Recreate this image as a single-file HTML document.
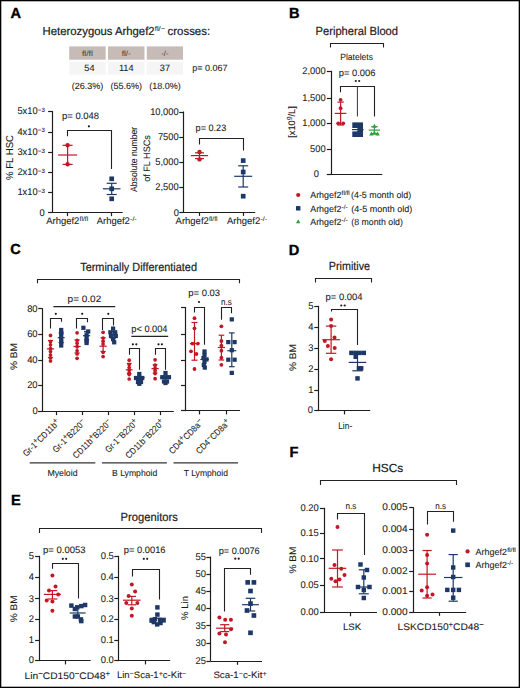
<!DOCTYPE html>
<html><head><meta charset="utf-8"><style>
html,body{margin:0;padding:0;background:#fff;}
svg{display:block;font-family:"Liberation Sans", sans-serif;}
</style></head><body>
<svg text-rendering="geometricPrecision" width="520" height="688" viewBox="0 0 520 688">
<rect x="0" y="0" width="520" height="688" fill="#fff"/>
<rect x="0.5" y="0.5" width="519" height="687" fill="none" stroke="#000" stroke-width="1.6"/>
<text x="10.5" y="18.0" font-size="14.6" font-weight="bold" fill="#000" stroke="#000" stroke-width="0.35">A</text>
<text x="288.9" y="18.0" font-size="14.6" font-weight="bold" fill="#000" stroke="#000" stroke-width="0.35">B</text>
<text x="10.3" y="254.2" font-size="14.6" font-weight="bold" fill="#000" stroke="#000" stroke-width="0.35">C</text>
<text x="288.7" y="254.6" font-size="14.6" font-weight="bold" fill="#000" stroke="#000" stroke-width="0.35">D</text>
<text x="10.9" y="504.8" font-size="14.6" font-weight="bold" fill="#000" stroke="#000" stroke-width="0.35">E</text>
<text x="289.6" y="456.8" font-size="14.6" font-weight="bold" fill="#000" stroke="#000" stroke-width="0.35">F</text>
<text x="42.60" y="34.80" font-size="11.6" text-anchor="start" fill="#1a1a1a" stroke="#1a1a1a" stroke-width="0.2" textLength="112.00" lengthAdjust="spacingAndGlyphs">Heterozygous Arhgef2</text>
<text x="154.80" y="31.00" font-size="7.0" text-anchor="start" fill="#1a1a1a" stroke="#1a1a1a" stroke-width="0.08" textLength="10.40" lengthAdjust="spacingAndGlyphs">fl/−</text>
<text x="167.60" y="34.80" font-size="11.6" text-anchor="start" fill="#1a1a1a" stroke="#1a1a1a" stroke-width="0.2" textLength="42.50" lengthAdjust="spacingAndGlyphs">crosses:</text>
<rect x="69.2" y="46.4" width="36.50" height="13.3" fill="#c7bbb8"/>
<rect x="69.2" y="61.7" width="36.50" height="13.0" fill="#f6f5f5"/>
<text x="87.45" y="56.10" font-size="7.6" text-anchor="middle" fill="#444" stroke="#444" stroke-width="0.08" textLength="11.00" lengthAdjust="spacingAndGlyphs">fl/fl</text>
<text x="89.45" y="71.40" font-size="9.2" text-anchor="middle" fill="#1a1a1a" stroke="#1a1a1a" stroke-width="0.08">54</text>
<text x="87.45" y="88.60" font-size="9.0" text-anchor="middle" fill="#1a1a1a" stroke="#1a1a1a" stroke-width="0.08">(26.3%)</text>
<rect x="108.0" y="46.4" width="36.50" height="13.3" fill="#c7bbb8"/>
<rect x="108.0" y="61.7" width="36.50" height="13.0" fill="#f6f5f5"/>
<text x="126.25" y="56.10" font-size="7.6" text-anchor="middle" fill="#444" stroke="#444" stroke-width="0.08" textLength="9.20" lengthAdjust="spacingAndGlyphs">fl/-</text>
<text x="126.25" y="71.40" font-size="9.2" text-anchor="middle" fill="#1a1a1a" stroke="#1a1a1a" stroke-width="0.08">114</text>
<text x="126.25" y="88.60" font-size="9.0" text-anchor="middle" fill="#1a1a1a" stroke="#1a1a1a" stroke-width="0.08">(55.6%)</text>
<rect x="146.8" y="46.4" width="36.20" height="13.3" fill="#c7bbb8"/>
<rect x="146.8" y="61.7" width="36.20" height="13.0" fill="#f6f5f5"/>
<text x="164.90" y="56.10" font-size="7.6" text-anchor="middle" fill="#444" stroke="#444" stroke-width="0.08" textLength="7.20" lengthAdjust="spacingAndGlyphs">-/-</text>
<text x="164.90" y="71.40" font-size="9.2" text-anchor="middle" fill="#1a1a1a" stroke="#1a1a1a" stroke-width="0.08">37</text>
<text x="164.90" y="88.60" font-size="9.0" text-anchor="middle" fill="#1a1a1a" stroke="#1a1a1a" stroke-width="0.08">(18.0%)</text>
<text x="192.30" y="71.40" font-size="9.0" text-anchor="start" fill="#1a1a1a" stroke="#1a1a1a" stroke-width="0.08">p= 0.067</text>
<line x1="52.50" y1="111.10" x2="52.50" y2="212.80" stroke="#1e1e1e" stroke-width="1.2"/>
<line x1="48.10" y1="111.50" x2="52.50" y2="111.50" stroke="#1e1e1e" stroke-width="1.2"/>
<line x1="48.10" y1="132.50" x2="52.50" y2="132.50" stroke="#1e1e1e" stroke-width="1.2"/>
<line x1="48.10" y1="152.50" x2="52.50" y2="152.50" stroke="#1e1e1e" stroke-width="1.2"/>
<line x1="48.10" y1="172.50" x2="52.50" y2="172.50" stroke="#1e1e1e" stroke-width="1.2"/>
<line x1="48.10" y1="192.50" x2="52.50" y2="192.50" stroke="#1e1e1e" stroke-width="1.2"/>
<line x1="48.10" y1="212.50" x2="52.50" y2="212.50" stroke="#1e1e1e" stroke-width="1.2"/>
<text x="37.60" y="114.00" font-size="9.7" text-anchor="end" fill="#1a1a1a" stroke="#1a1a1a" stroke-width="0.08" textLength="20.17" lengthAdjust="spacingAndGlyphs">5x10</text>
<text x="37.80" y="111.90" font-size="6.2" text-anchor="start" fill="#1a1a1a" stroke="#1a1a1a" stroke-width="0.08">−3</text>
<text x="37.60" y="135.00" font-size="9.7" text-anchor="end" fill="#1a1a1a" stroke="#1a1a1a" stroke-width="0.08" textLength="20.17" lengthAdjust="spacingAndGlyphs">4x10</text>
<text x="37.80" y="132.20" font-size="6.2" text-anchor="start" fill="#1a1a1a" stroke="#1a1a1a" stroke-width="0.08">−3</text>
<text x="37.60" y="155.00" font-size="9.7" text-anchor="end" fill="#1a1a1a" stroke="#1a1a1a" stroke-width="0.08" textLength="20.17" lengthAdjust="spacingAndGlyphs">3x10</text>
<text x="37.80" y="152.50" font-size="6.2" text-anchor="start" fill="#1a1a1a" stroke="#1a1a1a" stroke-width="0.08">−3</text>
<text x="37.60" y="175.00" font-size="9.7" text-anchor="end" fill="#1a1a1a" stroke="#1a1a1a" stroke-width="0.08" textLength="20.17" lengthAdjust="spacingAndGlyphs">2x10</text>
<text x="37.80" y="172.70" font-size="6.2" text-anchor="start" fill="#1a1a1a" stroke="#1a1a1a" stroke-width="0.08">−3</text>
<text x="37.60" y="195.00" font-size="9.7" text-anchor="end" fill="#1a1a1a" stroke="#1a1a1a" stroke-width="0.08" textLength="20.17" lengthAdjust="spacingAndGlyphs">1x10</text>
<text x="37.80" y="192.70" font-size="6.2" text-anchor="start" fill="#1a1a1a" stroke="#1a1a1a" stroke-width="0.08">−3</text>
<text x="44.70" y="216.00" font-size="9.7" text-anchor="end" fill="#1a1a1a" stroke="#1a1a1a" stroke-width="0.08" textLength="5.17" lengthAdjust="spacingAndGlyphs">0</text>
<line x1="48.80" y1="212.50" x2="122.70" y2="212.50" stroke="#1e1e1e" stroke-width="1.2"/>
<line x1="67.50" y1="212.50" x2="67.50" y2="216.10" stroke="#1e1e1e" stroke-width="1.2"/>
<line x1="111.50" y1="212.50" x2="111.50" y2="216.10" stroke="#1e1e1e" stroke-width="1.2"/>
<line x1="58.10" y1="155.00" x2="77.10" y2="155.00" stroke="#c01824" stroke-width="1.2"/>
<line x1="67.60" y1="145.30" x2="67.60" y2="164.40" stroke="#c01824" stroke-width="1.2"/>
<line x1="62.60" y1="145.30" x2="72.60" y2="145.30" stroke="#c01824" stroke-width="1.2"/>
<line x1="62.60" y1="164.40" x2="72.60" y2="164.40" stroke="#c01824" stroke-width="1.2"/>
<circle cx="67.60" cy="145.20" r="2.2" fill="#c01824"/>
<circle cx="67.60" cy="164.30" r="2.2" fill="#c01824"/>
<line x1="102.90" y1="188.80" x2="120.50" y2="188.80" stroke="#1d3866" stroke-width="1.2"/>
<line x1="111.70" y1="183.30" x2="111.70" y2="194.50" stroke="#1d3866" stroke-width="1.2"/>
<line x1="106.70" y1="183.30" x2="116.70" y2="183.30" stroke="#1d3866" stroke-width="1.2"/>
<line x1="106.70" y1="194.50" x2="116.70" y2="194.50" stroke="#1d3866" stroke-width="1.2"/>
<rect x="109.37" y="176.47" width="4.664000000000001" height="4.664000000000001" fill="#1d3866"/>
<rect x="109.37" y="186.47" width="4.664000000000001" height="4.664000000000001" fill="#1d3866"/>
<rect x="109.37" y="196.47" width="4.664000000000001" height="4.664000000000001" fill="#1d3866"/>
<polyline points="67.50,136.20 67.50,130.50 111.50,130.50 111.50,169.00" fill="none" stroke="#222" stroke-width="1.1" stroke-linejoin="miter"/>
<circle cx="88.90" cy="126.30" r="1.1" fill="#1a1a1a"/>
<text x="62.00" y="119.40" font-size="9.3" text-anchor="start" fill="#1a1a1a" stroke="#1a1a1a" stroke-width="0.08" textLength="37.00" lengthAdjust="spacingAndGlyphs">p= 0.048</text>
<text transform="translate(13.30 157.50) rotate(-90)" x="0" y="0" font-size="10.0" text-anchor="middle" fill="#1a1a1a" stroke="#1a1a1a" stroke-width="0.08" textLength="45.00" lengthAdjust="spacingAndGlyphs">% FL HSC</text>
<text x="46.20" y="224.20" font-size="9.5" text-anchor="start" fill="#1a1a1a" stroke="#1a1a1a" stroke-width="0.08" textLength="33.20" lengthAdjust="spacingAndGlyphs">Arhgef2</text>
<text x="79.60" y="221.00" font-size="6.3" text-anchor="start" fill="#1a1a1a" stroke="#1a1a1a" stroke-width="0.08" textLength="8.60" lengthAdjust="spacingAndGlyphs">fl/fl</text>
<text x="96.70" y="224.20" font-size="9.5" text-anchor="start" fill="#1a1a1a" stroke="#1a1a1a" stroke-width="0.08" textLength="33.20" lengthAdjust="spacingAndGlyphs">Arhgef2</text>
<text x="130.10" y="221.00" font-size="6.3" text-anchor="start" fill="#1a1a1a" stroke="#1a1a1a" stroke-width="0.08" textLength="6.60" lengthAdjust="spacingAndGlyphs">-/-</text>
<line x1="183.50" y1="111.50" x2="183.50" y2="212.60" stroke="#1e1e1e" stroke-width="1.2"/>
<line x1="179.30" y1="112.50" x2="183.50" y2="112.50" stroke="#1e1e1e" stroke-width="1.2"/>
<text x="178.60" y="115.00" font-size="9.7" text-anchor="end" fill="#1a1a1a" stroke="#1a1a1a" stroke-width="0.08" textLength="28.44" lengthAdjust="spacingAndGlyphs">10,000</text>
<line x1="179.30" y1="137.50" x2="183.50" y2="137.50" stroke="#1e1e1e" stroke-width="1.2"/>
<text x="178.60" y="140.00" font-size="9.7" text-anchor="end" fill="#1a1a1a" stroke="#1a1a1a" stroke-width="0.08" textLength="20.69" lengthAdjust="spacingAndGlyphs">7500</text>
<line x1="179.30" y1="162.50" x2="183.50" y2="162.50" stroke="#1e1e1e" stroke-width="1.2"/>
<text x="178.60" y="165.00" font-size="9.7" text-anchor="end" fill="#1a1a1a" stroke="#1a1a1a" stroke-width="0.08" textLength="23.27" lengthAdjust="spacingAndGlyphs">5,000</text>
<line x1="179.30" y1="187.50" x2="183.50" y2="187.50" stroke="#1e1e1e" stroke-width="1.2"/>
<text x="178.60" y="190.00" font-size="9.7" text-anchor="end" fill="#1a1a1a" stroke="#1a1a1a" stroke-width="0.08" textLength="23.27" lengthAdjust="spacingAndGlyphs">2,500</text>
<line x1="179.30" y1="212.50" x2="183.50" y2="212.50" stroke="#1e1e1e" stroke-width="1.2"/>
<text x="178.90" y="216.00" font-size="9.7" text-anchor="end" fill="#1a1a1a" stroke="#1a1a1a" stroke-width="0.08" textLength="5.17" lengthAdjust="spacingAndGlyphs">0</text>
<line x1="180.40" y1="212.50" x2="255.20" y2="212.50" stroke="#1e1e1e" stroke-width="1.2"/>
<line x1="199.50" y1="212.50" x2="199.50" y2="215.90" stroke="#1e1e1e" stroke-width="1.2"/>
<line x1="243.50" y1="212.50" x2="243.50" y2="215.90" stroke="#1e1e1e" stroke-width="1.2"/>
<line x1="190.90" y1="155.60" x2="208.10" y2="155.60" stroke="#c01824" stroke-width="1.2"/>
<line x1="199.50" y1="152.80" x2="199.50" y2="158.60" stroke="#c01824" stroke-width="1.2"/>
<line x1="195.00" y1="152.80" x2="204.00" y2="152.80" stroke="#c01824" stroke-width="1.2"/>
<line x1="195.00" y1="158.60" x2="204.00" y2="158.60" stroke="#c01824" stroke-width="1.2"/>
<circle cx="199.50" cy="152.00" r="2.2" fill="#c01824"/>
<circle cx="199.50" cy="159.40" r="2.2" fill="#c01824"/>
<line x1="234.20" y1="176.30" x2="252.20" y2="176.30" stroke="#1d3866" stroke-width="1.2"/>
<line x1="243.20" y1="165.80" x2="243.20" y2="187.00" stroke="#1d3866" stroke-width="1.2"/>
<line x1="238.20" y1="165.80" x2="248.20" y2="165.80" stroke="#1d3866" stroke-width="1.2"/>
<line x1="238.20" y1="187.00" x2="248.20" y2="187.00" stroke="#1d3866" stroke-width="1.2"/>
<rect x="240.87" y="158.27" width="4.664000000000001" height="4.664000000000001" fill="#1d3866"/>
<rect x="240.87" y="169.67" width="4.664000000000001" height="4.664000000000001" fill="#1d3866"/>
<rect x="240.87" y="193.87" width="4.664000000000001" height="4.664000000000001" fill="#1d3866"/>
<polyline points="199.50,144.60 199.50,138.50 243.50,138.50 243.50,150.60" fill="none" stroke="#222" stroke-width="1.1" stroke-linejoin="miter"/>
<text x="195.60" y="131.40" font-size="9.3" text-anchor="start" fill="#1a1a1a" stroke="#1a1a1a" stroke-width="0.08" textLength="30.60" lengthAdjust="spacingAndGlyphs">p= 0.23</text>
<text transform="translate(137.16 159.40) rotate(-90)" x="0" y="0" font-size="9.3" text-anchor="middle" fill="#1a1a1a" stroke="#1a1a1a" stroke-width="0.08" textLength="65.00" lengthAdjust="spacingAndGlyphs">Absolute number</text>
<text transform="translate(150.06 158.50) rotate(-90)" x="0" y="0" font-size="9.3" text-anchor="middle" fill="#1a1a1a" stroke="#1a1a1a" stroke-width="0.08" textLength="46.50" lengthAdjust="spacingAndGlyphs">of FL HSCs</text>
<text x="175.60" y="224.20" font-size="9.5" text-anchor="start" fill="#1a1a1a" stroke="#1a1a1a" stroke-width="0.08" textLength="33.20" lengthAdjust="spacingAndGlyphs">Arhgef2</text>
<text x="209.00" y="221.00" font-size="6.3" text-anchor="start" fill="#1a1a1a" stroke="#1a1a1a" stroke-width="0.08" textLength="8.60" lengthAdjust="spacingAndGlyphs">fl/fl</text>
<text x="227.00" y="224.20" font-size="9.5" text-anchor="start" fill="#1a1a1a" stroke="#1a1a1a" stroke-width="0.08" textLength="33.20" lengthAdjust="spacingAndGlyphs">Arhgef2</text>
<text x="260.40" y="221.00" font-size="6.3" text-anchor="start" fill="#1a1a1a" stroke="#1a1a1a" stroke-width="0.08" textLength="6.60" lengthAdjust="spacingAndGlyphs">-/-</text>
<text x="315.60" y="35.00" font-size="11.8" text-anchor="start" fill="#1a1a1a" stroke="#1a1a1a" stroke-width="0.2" textLength="82.40" lengthAdjust="spacingAndGlyphs">Peripheral Blood</text>
<polyline points="330.50,47.40 330.50,43.50 383.50,43.50 383.50,47.40" fill="none" stroke="#222" stroke-width="1.1" stroke-linejoin="miter"/>
<text x="340.20" y="59.50" font-size="9.0" text-anchor="start" fill="#1a1a1a" stroke="#1a1a1a" stroke-width="0.08" textLength="32.80" lengthAdjust="spacingAndGlyphs">Platelets</text>
<line x1="331.50" y1="70.80" x2="331.50" y2="175.00" stroke="#1e1e1e" stroke-width="1.2"/>
<line x1="326.80" y1="71.50" x2="331.50" y2="71.50" stroke="#1e1e1e" stroke-width="1.2"/>
<text x="325.60" y="74.00" font-size="9.7" text-anchor="end" fill="#1a1a1a" stroke="#1a1a1a" stroke-width="0.08" textLength="23.27" lengthAdjust="spacingAndGlyphs">2,000</text>
<line x1="326.80" y1="98.50" x2="331.50" y2="98.50" stroke="#1e1e1e" stroke-width="1.2"/>
<text x="325.60" y="101.00" font-size="9.7" text-anchor="end" fill="#1a1a1a" stroke="#1a1a1a" stroke-width="0.08" textLength="23.27" lengthAdjust="spacingAndGlyphs">1,500</text>
<line x1="326.80" y1="123.50" x2="331.50" y2="123.50" stroke="#1e1e1e" stroke-width="1.2"/>
<text x="325.60" y="126.00" font-size="9.7" text-anchor="end" fill="#1a1a1a" stroke="#1a1a1a" stroke-width="0.08" textLength="23.27" lengthAdjust="spacingAndGlyphs">1,000</text>
<line x1="326.80" y1="149.50" x2="331.50" y2="149.50" stroke="#1e1e1e" stroke-width="1.2"/>
<text x="325.60" y="152.00" font-size="9.7" text-anchor="end" fill="#1a1a1a" stroke="#1a1a1a" stroke-width="0.08" textLength="15.52" lengthAdjust="spacingAndGlyphs">500</text>
<line x1="326.80" y1="174.50" x2="331.50" y2="174.50" stroke="#1e1e1e" stroke-width="1.2"/>
<text x="319.00" y="177.00" font-size="9.7" text-anchor="end" fill="#1a1a1a" stroke="#1a1a1a" stroke-width="0.08" textLength="5.17" lengthAdjust="spacingAndGlyphs">0</text>
<line x1="327.00" y1="174.50" x2="382.20" y2="174.50" stroke="#1e1e1e" stroke-width="1.2"/>
<line x1="334.80" y1="113.40" x2="346.40" y2="113.40" stroke="#c01824" stroke-width="1.2"/>
<line x1="340.60" y1="102.10" x2="340.60" y2="125.00" stroke="#c01824" stroke-width="1.2"/>
<line x1="337.40" y1="102.10" x2="343.80" y2="102.10" stroke="#c01824" stroke-width="1.2"/>
<line x1="337.40" y1="125.00" x2="343.80" y2="125.00" stroke="#c01824" stroke-width="1.2"/>
<circle cx="340.60" cy="99.80" r="1.9" fill="#c01824"/>
<circle cx="340.60" cy="108.20" r="1.9" fill="#c01824"/>
<circle cx="338.20" cy="123.30" r="1.9" fill="#c01824"/>
<circle cx="343.20" cy="123.30" r="1.9" fill="#c01824"/>
<rect x="352.29" y="122.39" width="5.618" height="5.618" fill="#1d3866"/>
<rect x="357.39" y="122.39" width="5.618" height="5.618" fill="#1d3866"/>
<rect x="357.39" y="126.99" width="5.618" height="5.618" fill="#1d3866"/>
<rect x="352.29" y="131.39" width="5.618" height="5.618" fill="#1d3866"/>
<rect x="357.39" y="131.39" width="5.618" height="5.618" fill="#1d3866"/>
<line x1="352.00" y1="129.60" x2="363.60" y2="129.60" stroke="#1d3866" stroke-width="1.2"/>
<line x1="368.80" y1="130.10" x2="380.00" y2="130.10" stroke="#2f9e3a" stroke-width="1.2"/>
<line x1="374.40" y1="126.70" x2="374.40" y2="133.50" stroke="#2f9e3a" stroke-width="1.2"/>
<line x1="371.10" y1="126.70" x2="377.70" y2="126.70" stroke="#2f9e3a" stroke-width="1.2"/>
<line x1="371.10" y1="133.50" x2="377.70" y2="133.50" stroke="#2f9e3a" stroke-width="1.2"/>
<polygon points="374.40,123.82 376.60,127.78 372.20,127.78" fill="#2f9e3a"/>
<polygon points="371.40,131.42 373.60,135.38 369.20,135.38" fill="#2f9e3a"/>
<polygon points="377.60,131.42 379.80,135.38 375.40,135.38" fill="#2f9e3a"/>
<polygon points="374.40,130.82 376.60,134.78 372.20,134.78" fill="#2f9e3a"/>
<polyline points="340.50,92.30 340.50,86.50 374.50,86.50 374.50,116.50" fill="none" stroke="#222" stroke-width="1.1" stroke-linejoin="miter"/>
<line x1="357.40" y1="86.30" x2="357.40" y2="116.50" stroke="#333" stroke-width="1.0"/>
<text x="338.80" y="75.90" font-size="9.3" text-anchor="start" fill="#1a1a1a" stroke="#1a1a1a" stroke-width="0.08" textLength="36.70" lengthAdjust="spacingAndGlyphs">p= 0.006</text>
<circle cx="355.80" cy="81.00" r="1.1" fill="#1a1a1a"/>
<circle cx="359.20" cy="81.00" r="1.1" fill="#1a1a1a"/>
<text transform="translate(295.22 122.00) rotate(-90)" x="0" y="0" font-size="9.5" text-anchor="middle" fill="#1a1a1a" stroke="#1a1a1a" stroke-width="0.08" textLength="31.50" lengthAdjust="spacingAndGlyphs">[x10<tspan font-size="7.2" dy="-3.4">9</tspan><tspan dy="3.4">/L]</tspan></text>
<circle cx="298.20" cy="195.00" r="2.1" fill="#c01824"/>
<rect x="295.97" y="206.07" width="4.452000000000001" height="4.452000000000001" fill="#1d3866"/>
<polygon points="298.20,219.22 300.40,223.18 296.00,223.18" fill="#2f9e3a"/>
<text x="310.20" y="198.30" font-size="9.0" text-anchor="start" fill="#1a1a1a" stroke="#1a1a1a" stroke-width="0.08" textLength="31.20" lengthAdjust="spacingAndGlyphs">Arhgef2</text>
<text x="341.60" y="195.40" font-size="6.0" text-anchor="start" fill="#1a1a1a" stroke="#1a1a1a" stroke-width="0.08" textLength="8.20" lengthAdjust="spacingAndGlyphs">fl/fl</text>
<text x="351.00" y="198.30" font-size="9.0" text-anchor="start" fill="#1a1a1a" stroke="#1a1a1a" stroke-width="0.08" textLength="60.20" lengthAdjust="spacingAndGlyphs">(4-5 month old)</text>
<text x="310.20" y="211.60" font-size="9.0" text-anchor="start" fill="#1a1a1a" stroke="#1a1a1a" stroke-width="0.08" textLength="31.20" lengthAdjust="spacingAndGlyphs">Arhgef2</text>
<text x="341.60" y="208.70" font-size="6.0" text-anchor="start" fill="#1a1a1a" stroke="#1a1a1a" stroke-width="0.08" textLength="6.20" lengthAdjust="spacingAndGlyphs">-/-</text>
<text x="351.30" y="211.60" font-size="9.0" text-anchor="start" fill="#1a1a1a" stroke="#1a1a1a" stroke-width="0.08" textLength="61.00" lengthAdjust="spacingAndGlyphs">(4-5 month old)</text>
<text x="310.20" y="224.60" font-size="9.0" text-anchor="start" fill="#1a1a1a" stroke="#1a1a1a" stroke-width="0.08" textLength="31.20" lengthAdjust="spacingAndGlyphs">Arhgef2</text>
<text x="341.60" y="221.70" font-size="6.0" text-anchor="start" fill="#1a1a1a" stroke="#1a1a1a" stroke-width="0.08" textLength="6.20" lengthAdjust="spacingAndGlyphs">-/-</text>
<text x="351.30" y="224.60" font-size="9.0" text-anchor="start" fill="#1a1a1a" stroke="#1a1a1a" stroke-width="0.08" textLength="51.60" lengthAdjust="spacingAndGlyphs">(8 month old)</text>
<text x="80.20" y="270.80" font-size="11.8" text-anchor="start" fill="#1a1a1a" stroke="#1a1a1a" stroke-width="0.2" textLength="116.80" lengthAdjust="spacingAndGlyphs">Terminally Differentiated</text>
<polyline points="37.50,283.20 37.50,279.50 239.50,279.50 239.50,283.20" fill="none" stroke="#222" stroke-width="1.1" stroke-linejoin="miter"/>
<line x1="42.50" y1="308.30" x2="42.50" y2="411.80" stroke="#1e1e1e" stroke-width="1.2"/>
<line x1="38.20" y1="308.50" x2="42.50" y2="308.50" stroke="#1e1e1e" stroke-width="1.2"/>
<text x="37.60" y="312.00" font-size="9.7" text-anchor="end" fill="#1a1a1a" stroke="#1a1a1a" stroke-width="0.08" textLength="10.45" lengthAdjust="spacingAndGlyphs">80</text>
<line x1="38.20" y1="334.50" x2="42.50" y2="334.50" stroke="#1e1e1e" stroke-width="1.2"/>
<text x="37.60" y="337.00" font-size="9.7" text-anchor="end" fill="#1a1a1a" stroke="#1a1a1a" stroke-width="0.08" textLength="10.45" lengthAdjust="spacingAndGlyphs">60</text>
<line x1="38.20" y1="360.50" x2="42.50" y2="360.50" stroke="#1e1e1e" stroke-width="1.2"/>
<text x="37.60" y="363.00" font-size="9.7" text-anchor="end" fill="#1a1a1a" stroke="#1a1a1a" stroke-width="0.08" textLength="10.45" lengthAdjust="spacingAndGlyphs">40</text>
<line x1="38.20" y1="385.50" x2="42.50" y2="385.50" stroke="#1e1e1e" stroke-width="1.2"/>
<text x="37.60" y="388.00" font-size="9.7" text-anchor="end" fill="#1a1a1a" stroke="#1a1a1a" stroke-width="0.08" textLength="10.45" lengthAdjust="spacingAndGlyphs">20</text>
<line x1="38.20" y1="411.50" x2="42.50" y2="411.50" stroke="#1e1e1e" stroke-width="1.2"/>
<text x="37.80" y="414.00" font-size="9.7" text-anchor="end" fill="#1a1a1a" stroke="#1a1a1a" stroke-width="0.08" textLength="5.23" lengthAdjust="spacingAndGlyphs">0</text>
<line x1="38.20" y1="411.50" x2="173.80" y2="411.50" stroke="#1e1e1e" stroke-width="1.2"/>
<line x1="56.50" y1="411.50" x2="56.50" y2="415.10" stroke="#1e1e1e" stroke-width="1.2"/>
<line x1="82.50" y1="411.50" x2="82.50" y2="415.10" stroke="#1e1e1e" stroke-width="1.2"/>
<line x1="108.50" y1="411.50" x2="108.50" y2="415.10" stroke="#1e1e1e" stroke-width="1.2"/>
<line x1="134.50" y1="411.50" x2="134.50" y2="415.10" stroke="#1e1e1e" stroke-width="1.2"/>
<line x1="160.50" y1="411.50" x2="160.50" y2="415.10" stroke="#1e1e1e" stroke-width="1.2"/>
<text x="67.60" y="302.20" font-size="9.3" text-anchor="start" fill="#1a1a1a" stroke="#1a1a1a" stroke-width="0.08" textLength="33.60" lengthAdjust="spacingAndGlyphs">p= 0.02</text>
<line x1="53.40" y1="306.60" x2="115.20" y2="306.60" stroke="#222" stroke-width="1.1"/>
<polyline points="50.50,328.50 50.50,318.50 61.50,318.50 61.50,321.80" fill="none" stroke="#222" stroke-width="1.1" stroke-linejoin="miter"/>
<circle cx="55.80" cy="313.80" r="1.1" fill="#1a1a1a"/>
<polyline points="76.50,328.50 76.50,318.50 87.50,318.50 87.50,322.30" fill="none" stroke="#222" stroke-width="1.1" stroke-linejoin="miter"/>
<circle cx="82.20" cy="313.80" r="1.1" fill="#1a1a1a"/>
<polyline points="102.50,330.00 102.50,318.50 113.50,318.50 113.50,325.40" fill="none" stroke="#222" stroke-width="1.1" stroke-linejoin="miter"/>
<circle cx="108.30" cy="313.80" r="1.1" fill="#1a1a1a"/>
<text x="131.30" y="332.20" font-size="9.3" text-anchor="start" fill="#1a1a1a" stroke="#1a1a1a" stroke-width="0.08" textLength="36.20" lengthAdjust="spacingAndGlyphs">p< 0.004</text>
<line x1="131.30" y1="336.40" x2="168.20" y2="336.40" stroke="#222" stroke-width="1.1"/>
<polyline points="129.50,354.80 129.50,348.50 139.50,348.50 139.50,369.80" fill="none" stroke="#222" stroke-width="1.1" stroke-linejoin="miter"/>
<circle cx="132.90" cy="344.30" r="1.1" fill="#1a1a1a"/>
<circle cx="136.30" cy="344.30" r="1.1" fill="#1a1a1a"/>
<polyline points="155.50,354.80 155.50,348.50 165.50,348.50 165.50,369.80" fill="none" stroke="#222" stroke-width="1.1" stroke-linejoin="miter"/>
<circle cx="158.50" cy="344.30" r="1.1" fill="#1a1a1a"/>
<circle cx="161.90" cy="344.30" r="1.1" fill="#1a1a1a"/>
<line x1="46.90" y1="348.90" x2="54.10" y2="348.90" stroke="#c01824" stroke-width="1.2"/>
<line x1="50.50" y1="340.50" x2="50.50" y2="357.50" stroke="#c01824" stroke-width="1.2"/>
<line x1="47.90" y1="340.50" x2="53.10" y2="340.50" stroke="#c01824" stroke-width="1.2"/>
<line x1="47.90" y1="357.50" x2="53.10" y2="357.50" stroke="#c01824" stroke-width="1.2"/>
<circle cx="50.50" cy="335.40" r="1.85" fill="#c01824"/>
<circle cx="50.50" cy="341.50" r="1.85" fill="#c01824"/>
<circle cx="50.50" cy="344.80" r="1.85" fill="#c01824"/>
<circle cx="50.50" cy="348.50" r="1.85" fill="#c01824"/>
<circle cx="50.50" cy="351.50" r="1.85" fill="#c01824"/>
<circle cx="50.50" cy="355.00" r="1.85" fill="#c01824"/>
<circle cx="50.50" cy="358.00" r="1.85" fill="#c01824"/>
<circle cx="50.50" cy="361.00" r="1.85" fill="#c01824"/>
<line x1="57.70" y1="337.70" x2="64.70" y2="337.70" stroke="#1d3866" stroke-width="1.2"/>
<line x1="61.20" y1="333.00" x2="61.20" y2="342.50" stroke="#1d3866" stroke-width="1.2"/>
<line x1="58.60" y1="333.00" x2="63.80" y2="333.00" stroke="#1d3866" stroke-width="1.2"/>
<line x1="58.60" y1="342.50" x2="63.80" y2="342.50" stroke="#1d3866" stroke-width="1.2"/>
<rect x="59.08" y="327.88" width="4.24" height="4.24" fill="#1d3866"/>
<rect x="59.08" y="330.88" width="4.24" height="4.24" fill="#1d3866"/>
<rect x="59.08" y="333.88" width="4.24" height="4.24" fill="#1d3866"/>
<rect x="59.08" y="336.88" width="4.24" height="4.24" fill="#1d3866"/>
<rect x="59.08" y="339.88" width="4.24" height="4.24" fill="#1d3866"/>
<rect x="59.08" y="343.38" width="4.24" height="4.24" fill="#1d3866"/>
<line x1="73.50" y1="346.50" x2="80.70" y2="346.50" stroke="#c01824" stroke-width="1.2"/>
<line x1="77.10" y1="340.00" x2="77.10" y2="353.00" stroke="#c01824" stroke-width="1.2"/>
<line x1="74.50" y1="340.00" x2="79.70" y2="340.00" stroke="#c01824" stroke-width="1.2"/>
<line x1="74.50" y1="353.00" x2="79.70" y2="353.00" stroke="#c01824" stroke-width="1.2"/>
<circle cx="77.10" cy="332.80" r="1.85" fill="#c01824"/>
<circle cx="77.10" cy="340.30" r="1.85" fill="#c01824"/>
<circle cx="77.10" cy="343.20" r="1.85" fill="#c01824"/>
<circle cx="77.10" cy="346.50" r="1.85" fill="#c01824"/>
<circle cx="77.10" cy="350.80" r="1.85" fill="#c01824"/>
<circle cx="77.10" cy="354.00" r="1.85" fill="#c01824"/>
<circle cx="77.10" cy="358.30" r="1.85" fill="#c01824"/>
<line x1="83.00" y1="335.70" x2="90.20" y2="335.70" stroke="#1d3866" stroke-width="1.2"/>
<line x1="86.60" y1="331.50" x2="86.60" y2="340.00" stroke="#1d3866" stroke-width="1.2"/>
<line x1="84.00" y1="331.50" x2="89.20" y2="331.50" stroke="#1d3866" stroke-width="1.2"/>
<line x1="84.00" y1="340.00" x2="89.20" y2="340.00" stroke="#1d3866" stroke-width="1.2"/>
<rect x="81.28" y="325.68" width="4.24" height="4.24" fill="#1d3866"/>
<rect x="86.08" y="329.38" width="4.24" height="4.24" fill="#1d3866"/>
<rect x="84.48" y="332.48" width="4.24" height="4.24" fill="#1d3866"/>
<rect x="84.48" y="335.58" width="4.24" height="4.24" fill="#1d3866"/>
<rect x="84.48" y="338.68" width="4.24" height="4.24" fill="#1d3866"/>
<rect x="84.48" y="340.88" width="4.24" height="4.24" fill="#1d3866"/>
<line x1="99.50" y1="346.20" x2="106.70" y2="346.20" stroke="#c01824" stroke-width="1.2"/>
<line x1="103.10" y1="337.80" x2="103.10" y2="351.50" stroke="#c01824" stroke-width="1.2"/>
<line x1="100.50" y1="337.80" x2="105.70" y2="337.80" stroke="#c01824" stroke-width="1.2"/>
<line x1="100.50" y1="351.50" x2="105.70" y2="351.50" stroke="#c01824" stroke-width="1.2"/>
<circle cx="103.10" cy="332.30" r="1.85" fill="#c01824"/>
<circle cx="103.10" cy="338.00" r="1.85" fill="#c01824"/>
<circle cx="103.10" cy="341.20" r="1.85" fill="#c01824"/>
<circle cx="103.10" cy="344.00" r="1.85" fill="#c01824"/>
<circle cx="103.10" cy="352.30" r="1.85" fill="#c01824"/>
<circle cx="103.10" cy="356.60" r="1.85" fill="#c01824"/>
<line x1="109.50" y1="334.80" x2="116.70" y2="334.80" stroke="#1d3866" stroke-width="1.2"/>
<line x1="113.10" y1="331.50" x2="113.10" y2="338.50" stroke="#1d3866" stroke-width="1.2"/>
<line x1="110.50" y1="331.50" x2="115.70" y2="331.50" stroke="#1d3866" stroke-width="1.2"/>
<line x1="110.50" y1="338.50" x2="115.70" y2="338.50" stroke="#1d3866" stroke-width="1.2"/>
<rect x="110.98" y="326.48" width="4.24" height="4.24" fill="#1d3866"/>
<rect x="108.28" y="330.18" width="4.24" height="4.24" fill="#1d3866"/>
<rect x="113.08" y="330.18" width="4.24" height="4.24" fill="#1d3866"/>
<rect x="108.88" y="333.88" width="4.24" height="4.24" fill="#1d3866"/>
<rect x="113.68" y="333.88" width="4.24" height="4.24" fill="#1d3866"/>
<rect x="110.98" y="337.08" width="4.24" height="4.24" fill="#1d3866"/>
<rect x="112.08" y="340.18" width="4.24" height="4.24" fill="#1d3866"/>
<line x1="125.80" y1="369.80" x2="132.60" y2="369.80" stroke="#c01824" stroke-width="1.2"/>
<line x1="129.20" y1="363.40" x2="129.20" y2="373.60" stroke="#c01824" stroke-width="1.2"/>
<line x1="126.80" y1="363.40" x2="131.60" y2="363.40" stroke="#c01824" stroke-width="1.2"/>
<line x1="126.80" y1="373.60" x2="131.60" y2="373.60" stroke="#c01824" stroke-width="1.2"/>
<circle cx="129.20" cy="360.20" r="1.85" fill="#c01824"/>
<circle cx="129.20" cy="364.60" r="1.85" fill="#c01824"/>
<circle cx="129.20" cy="367.50" r="1.85" fill="#c01824"/>
<circle cx="129.20" cy="370.00" r="1.85" fill="#c01824"/>
<circle cx="129.20" cy="372.70" r="1.85" fill="#c01824"/>
<circle cx="129.20" cy="374.60" r="1.85" fill="#c01824"/>
<circle cx="129.20" cy="379.00" r="1.85" fill="#c01824"/>
<rect x="137.18" y="371.88" width="4.24" height="4.24" fill="#1d3866"/>
<rect x="133.88" y="375.88" width="4.24" height="4.24" fill="#1d3866"/>
<rect x="137.18" y="375.88" width="4.24" height="4.24" fill="#1d3866"/>
<rect x="140.08" y="375.88" width="4.24" height="4.24" fill="#1d3866"/>
<rect x="135.88" y="379.88" width="4.24" height="4.24" fill="#1d3866"/>
<rect x="138.88" y="379.88" width="4.24" height="4.24" fill="#1d3866"/>
<rect x="137.18" y="381.68" width="4.24" height="4.24" fill="#1d3866"/>
<line x1="134.00" y1="377.60" x2="144.60" y2="377.60" stroke="#1d3866" stroke-width="1.1"/>
<line x1="151.50" y1="368.60" x2="158.70" y2="368.60" stroke="#c01824" stroke-width="1.2"/>
<line x1="155.10" y1="364.80" x2="155.10" y2="373.00" stroke="#c01824" stroke-width="1.2"/>
<line x1="152.70" y1="364.80" x2="157.50" y2="364.80" stroke="#c01824" stroke-width="1.2"/>
<line x1="152.70" y1="373.00" x2="157.50" y2="373.00" stroke="#c01824" stroke-width="1.2"/>
<circle cx="155.10" cy="359.80" r="1.85" fill="#c01824"/>
<circle cx="155.10" cy="365.20" r="1.85" fill="#c01824"/>
<circle cx="155.10" cy="368.00" r="1.85" fill="#c01824"/>
<circle cx="155.10" cy="370.40" r="1.85" fill="#c01824"/>
<circle cx="155.10" cy="373.60" r="1.85" fill="#c01824"/>
<circle cx="155.10" cy="378.70" r="1.85" fill="#c01824"/>
<rect x="163.38" y="370.88" width="4.24" height="4.24" fill="#1d3866"/>
<rect x="160.18" y="375.08" width="4.24" height="4.24" fill="#1d3866"/>
<rect x="163.38" y="375.08" width="4.24" height="4.24" fill="#1d3866"/>
<rect x="166.78" y="375.08" width="4.24" height="4.24" fill="#1d3866"/>
<rect x="161.88" y="379.38" width="4.24" height="4.24" fill="#1d3866"/>
<rect x="164.88" y="379.38" width="4.24" height="4.24" fill="#1d3866"/>
<rect x="163.38" y="380.88" width="4.24" height="4.24" fill="#1d3866"/>
<line x1="160.40" y1="377.60" x2="171.20" y2="377.60" stroke="#1d3866" stroke-width="1.1"/>
<line x1="185.50" y1="307.00" x2="185.50" y2="411.10" stroke="#1e1e1e" stroke-width="1.2"/>
<line x1="181.00" y1="307.50" x2="185.50" y2="307.50" stroke="#1e1e1e" stroke-width="1.2"/>
<line x1="181.00" y1="334.50" x2="185.50" y2="334.50" stroke="#1e1e1e" stroke-width="1.2"/>
<line x1="181.00" y1="360.50" x2="185.50" y2="360.50" stroke="#1e1e1e" stroke-width="1.2"/>
<line x1="181.00" y1="385.50" x2="185.50" y2="385.50" stroke="#1e1e1e" stroke-width="1.2"/>
<line x1="181.00" y1="410.50" x2="185.50" y2="410.50" stroke="#1e1e1e" stroke-width="1.2"/>
<line x1="181.20" y1="410.50" x2="240.00" y2="410.50" stroke="#1e1e1e" stroke-width="1.2"/>
<line x1="199.50" y1="410.50" x2="199.50" y2="414.40" stroke="#1e1e1e" stroke-width="1.2"/>
<line x1="226.50" y1="410.50" x2="226.50" y2="414.40" stroke="#1e1e1e" stroke-width="1.2"/>
<text x="188.30" y="296.00" font-size="9.3" text-anchor="start" fill="#1a1a1a" stroke="#1a1a1a" stroke-width="0.08" textLength="31.80" lengthAdjust="spacingAndGlyphs">p= 0.03</text>
<polyline points="194.50,312.50 194.50,307.50 204.50,307.50 204.50,344.80" fill="none" stroke="#222" stroke-width="1.1" stroke-linejoin="miter"/>
<circle cx="199.00" cy="302.00" r="1.1" fill="#1a1a1a"/>
<text x="221.00" y="305.00" font-size="9.0" text-anchor="start" fill="#1a1a1a" stroke="#1a1a1a" stroke-width="0.08" textLength="10.80" lengthAdjust="spacingAndGlyphs">n.s</text>
<polyline points="221.50,319.80 221.50,307.50 231.50,307.50 231.50,313.30" fill="none" stroke="#222" stroke-width="1.1" stroke-linejoin="miter"/>
<line x1="189.90" y1="343.60" x2="199.10" y2="343.60" stroke="#c01824" stroke-width="1.2"/>
<line x1="194.50" y1="322.50" x2="194.50" y2="360.20" stroke="#c01824" stroke-width="1.2"/>
<line x1="191.50" y1="322.50" x2="197.50" y2="322.50" stroke="#c01824" stroke-width="1.2"/>
<line x1="191.50" y1="360.20" x2="197.50" y2="360.20" stroke="#c01824" stroke-width="1.2"/>
<circle cx="194.50" cy="318.20" r="1.9" fill="#c01824"/>
<circle cx="194.50" cy="328.30" r="1.9" fill="#c01824"/>
<circle cx="192.40" cy="343.60" r="1.9" fill="#c01824"/>
<circle cx="197.90" cy="343.60" r="1.9" fill="#c01824"/>
<circle cx="191.00" cy="351.30" r="1.9" fill="#c01824"/>
<circle cx="196.40" cy="354.00" r="1.9" fill="#c01824"/>
<circle cx="194.50" cy="369.00" r="1.9" fill="#c01824"/>
<rect x="202.38" y="349.38" width="4.24" height="4.24" fill="#1d3866"/>
<rect x="202.38" y="352.88" width="4.24" height="4.24" fill="#1d3866"/>
<rect x="201.38" y="355.88" width="4.24" height="4.24" fill="#1d3866"/>
<rect x="204.38" y="357.28" width="4.24" height="4.24" fill="#1d3866"/>
<rect x="202.38" y="359.88" width="4.24" height="4.24" fill="#1d3866"/>
<rect x="201.68" y="362.88" width="4.24" height="4.24" fill="#1d3866"/>
<rect x="202.68" y="365.48" width="4.24" height="4.24" fill="#1d3866"/>
<line x1="200.30" y1="359.40" x2="208.90" y2="359.40" stroke="#1d3866" stroke-width="1.1"/>
<line x1="217.80" y1="347.50" x2="225.00" y2="347.50" stroke="#c01824" stroke-width="1.2"/>
<line x1="221.40" y1="335.20" x2="221.40" y2="360.00" stroke="#c01824" stroke-width="1.2"/>
<line x1="218.60" y1="335.20" x2="224.20" y2="335.20" stroke="#c01824" stroke-width="1.2"/>
<line x1="218.60" y1="360.00" x2="224.20" y2="360.00" stroke="#c01824" stroke-width="1.2"/>
<circle cx="221.40" cy="326.30" r="1.9" fill="#c01824"/>
<circle cx="221.40" cy="341.00" r="1.9" fill="#c01824"/>
<circle cx="221.40" cy="345.60" r="1.9" fill="#c01824"/>
<circle cx="221.40" cy="350.70" r="1.9" fill="#c01824"/>
<circle cx="221.40" cy="357.70" r="1.9" fill="#c01824"/>
<circle cx="221.40" cy="364.80" r="1.9" fill="#c01824"/>
<line x1="227.30" y1="350.70" x2="236.30" y2="350.70" stroke="#1d3866" stroke-width="1.2"/>
<line x1="231.80" y1="332.90" x2="231.80" y2="366.70" stroke="#1d3866" stroke-width="1.2"/>
<line x1="229.00" y1="332.90" x2="234.60" y2="332.90" stroke="#1d3866" stroke-width="1.2"/>
<line x1="229.00" y1="366.70" x2="234.60" y2="366.70" stroke="#1d3866" stroke-width="1.2"/>
<rect x="229.68" y="317.28" width="4.24" height="4.24" fill="#1d3866"/>
<rect x="226.18" y="339.98" width="4.24" height="4.24" fill="#1d3866"/>
<rect x="232.48" y="339.98" width="4.24" height="4.24" fill="#1d3866"/>
<rect x="229.68" y="348.08" width="4.24" height="4.24" fill="#1d3866"/>
<rect x="226.18" y="357.58" width="4.24" height="4.24" fill="#1d3866"/>
<rect x="232.48" y="357.58" width="4.24" height="4.24" fill="#1d3866"/>
<rect x="229.68" y="370.78" width="4.24" height="4.24" fill="#1d3866"/>
<text transform="translate(17.16 356.50) rotate(-90)" x="0" y="0" font-size="9.6" text-anchor="middle" fill="#1a1a1a" stroke="#1a1a1a" stroke-width="0.08" textLength="27.00" lengthAdjust="spacingAndGlyphs">% BM</text>
<text transform="translate(60.50 423.00) rotate(-45)" x="0" y="0" font-size="9.0" text-anchor="end" fill="#1a1a1a" stroke="#1a1a1a" stroke-width="0.08" textLength="48.22" lengthAdjust="spacingAndGlyphs"><tspan>Gr-1</tspan><tspan font-size="8.0" dy="-2.8">+</tspan><tspan dy="2.8">CD11b</tspan><tspan font-size="8.0" dy="-2.8">+</tspan></text>
<text transform="translate(86.30 423.00) rotate(-45)" x="0" y="0" font-size="9.0" text-anchor="end" fill="#1a1a1a" stroke="#1a1a1a" stroke-width="0.08" textLength="42.62" lengthAdjust="spacingAndGlyphs"><tspan>Gr-1</tspan><tspan font-size="8.0" dy="-2.8">+</tspan><tspan dy="2.8">B220</tspan><tspan font-size="8.0" dy="-2.8">−</tspan></text>
<text transform="translate(112.30 423.00) rotate(-45)" x="0" y="0" font-size="9.0" text-anchor="end" fill="#1a1a1a" stroke="#1a1a1a" stroke-width="0.08" textLength="50.89" lengthAdjust="spacingAndGlyphs"><tspan>CD11b</tspan><tspan font-size="8.0" dy="-2.8">+</tspan><tspan dy="2.8">B220</tspan><tspan font-size="8.0" dy="-2.8">−</tspan></text>
<text transform="translate(138.80 423.00) rotate(-45)" x="0" y="0" font-size="9.0" text-anchor="end" fill="#1a1a1a" stroke="#1a1a1a" stroke-width="0.08" textLength="42.62" lengthAdjust="spacingAndGlyphs"><tspan>Gr-1</tspan><tspan font-size="8.0" dy="-2.8">−</tspan><tspan dy="2.8">B220</tspan><tspan font-size="8.0" dy="-2.8">+</tspan></text>
<text transform="translate(165.00 423.00) rotate(-45)" x="0" y="0" font-size="9.0" text-anchor="end" fill="#1a1a1a" stroke="#1a1a1a" stroke-width="0.08" textLength="50.89" lengthAdjust="spacingAndGlyphs"><tspan>CD11b</tspan><tspan font-size="8.0" dy="-2.8">−</tspan><tspan dy="2.8">B220</tspan><tspan font-size="8.0" dy="-2.8">+</tspan></text>
<text transform="translate(203.90 423.00) rotate(-45)" x="0" y="0" font-size="9.0" text-anchor="end" fill="#1a1a1a" stroke="#1a1a1a" stroke-width="0.08" textLength="44.38" lengthAdjust="spacingAndGlyphs"><tspan>CD4</tspan><tspan font-size="8.0" dy="-2.8">+</tspan><tspan dy="2.8">CD8a</tspan><tspan font-size="8.0" dy="-2.8">−</tspan></text>
<text transform="translate(230.80 423.00) rotate(-45)" x="0" y="0" font-size="9.0" text-anchor="end" fill="#1a1a1a" stroke="#1a1a1a" stroke-width="0.08" textLength="44.38" lengthAdjust="spacingAndGlyphs"><tspan>CD4</tspan><tspan font-size="8.0" dy="-2.8">−</tspan><tspan dy="2.8">CD8a</tspan><tspan font-size="8.0" dy="-2.8">+</tspan></text>
<line x1="29.70" y1="462.80" x2="95.30" y2="462.80" stroke="#333" stroke-width="1.2"/>
<line x1="101.90" y1="462.80" x2="166.90" y2="462.80" stroke="#333" stroke-width="1.2"/>
<line x1="173.50" y1="462.80" x2="238.10" y2="462.80" stroke="#333" stroke-width="1.2"/>
<text x="47.40" y="475.80" font-size="8.8" text-anchor="start" fill="#1a1a1a" stroke="#1a1a1a" stroke-width="0.08" textLength="30.10" lengthAdjust="spacingAndGlyphs">Myeloid</text>
<text x="112.00" y="475.80" font-size="8.8" text-anchor="start" fill="#1a1a1a" stroke="#1a1a1a" stroke-width="0.08" textLength="45.20" lengthAdjust="spacingAndGlyphs">B Lymphoid</text>
<text x="183.70" y="475.80" font-size="8.8" text-anchor="start" fill="#1a1a1a" stroke="#1a1a1a" stroke-width="0.08" textLength="44.30" lengthAdjust="spacingAndGlyphs">T Lymphoid</text>
<text x="328.80" y="270.00" font-size="11.8" text-anchor="start" fill="#1a1a1a" stroke="#1a1a1a" stroke-width="0.2" textLength="41.20" lengthAdjust="spacingAndGlyphs">Primitive</text>
<polyline points="315.50,282.60 315.50,278.50 371.50,278.50 371.50,282.60" fill="none" stroke="#222" stroke-width="1.1" stroke-linejoin="miter"/>
<line x1="318.50" y1="305.80" x2="318.50" y2="411.10" stroke="#1e1e1e" stroke-width="1.2"/>
<line x1="314.30" y1="306.50" x2="318.50" y2="306.50" stroke="#1e1e1e" stroke-width="1.2"/>
<text x="313.60" y="309.00" font-size="9.7" text-anchor="end" fill="#1a1a1a" stroke="#1a1a1a" stroke-width="0.08" textLength="5.23" lengthAdjust="spacingAndGlyphs">5</text>
<line x1="314.30" y1="327.50" x2="318.50" y2="327.50" stroke="#1e1e1e" stroke-width="1.2"/>
<text x="313.60" y="330.00" font-size="9.7" text-anchor="end" fill="#1a1a1a" stroke="#1a1a1a" stroke-width="0.08" textLength="5.23" lengthAdjust="spacingAndGlyphs">4</text>
<line x1="314.30" y1="348.50" x2="318.50" y2="348.50" stroke="#1e1e1e" stroke-width="1.2"/>
<text x="313.60" y="351.00" font-size="9.7" text-anchor="end" fill="#1a1a1a" stroke="#1a1a1a" stroke-width="0.08" textLength="5.23" lengthAdjust="spacingAndGlyphs">3</text>
<line x1="314.30" y1="369.50" x2="318.50" y2="369.50" stroke="#1e1e1e" stroke-width="1.2"/>
<text x="313.60" y="372.00" font-size="9.7" text-anchor="end" fill="#1a1a1a" stroke="#1a1a1a" stroke-width="0.08" textLength="5.23" lengthAdjust="spacingAndGlyphs">2</text>
<line x1="314.30" y1="390.50" x2="318.50" y2="390.50" stroke="#1e1e1e" stroke-width="1.2"/>
<text x="313.60" y="393.00" font-size="9.7" text-anchor="end" fill="#1a1a1a" stroke="#1a1a1a" stroke-width="0.08" textLength="5.23" lengthAdjust="spacingAndGlyphs">1</text>
<line x1="314.30" y1="410.50" x2="318.50" y2="410.50" stroke="#1e1e1e" stroke-width="1.2"/>
<text x="313.00" y="413.00" font-size="9.7" text-anchor="end" fill="#1a1a1a" stroke="#1a1a1a" stroke-width="0.08" textLength="5.23" lengthAdjust="spacingAndGlyphs">0</text>
<line x1="314.80" y1="410.50" x2="370.20" y2="410.50" stroke="#1e1e1e" stroke-width="1.2"/>
<line x1="344.50" y1="410.50" x2="344.50" y2="414.40" stroke="#1e1e1e" stroke-width="1.2"/>
<text x="325.60" y="300.40" font-size="9.3" text-anchor="start" fill="#1a1a1a" stroke="#1a1a1a" stroke-width="0.08" textLength="36.90" lengthAdjust="spacingAndGlyphs">p= 0.004</text>
<circle cx="341.30" cy="305.50" r="1.1" fill="#1a1a1a"/>
<circle cx="344.70" cy="305.50" r="1.1" fill="#1a1a1a"/>
<polyline points="331.50,311.40 331.50,309.50 357.50,309.50 357.50,345.00" fill="none" stroke="#222" stroke-width="1.1" stroke-linejoin="miter"/>
<line x1="322.30" y1="339.70" x2="339.90" y2="339.70" stroke="#c01824" stroke-width="1.2"/>
<line x1="331.10" y1="326.10" x2="331.10" y2="353.30" stroke="#c01824" stroke-width="1.2"/>
<line x1="325.90" y1="326.10" x2="336.30" y2="326.10" stroke="#c01824" stroke-width="1.2"/>
<line x1="325.90" y1="353.30" x2="336.30" y2="353.30" stroke="#c01824" stroke-width="1.2"/>
<circle cx="331.10" cy="319.50" r="2.0" fill="#c01824"/>
<circle cx="331.10" cy="326.10" r="2.0" fill="#c01824"/>
<circle cx="334.50" cy="337.60" r="2.0" fill="#c01824"/>
<circle cx="324.80" cy="341.10" r="2.0" fill="#c01824"/>
<circle cx="327.90" cy="346.00" r="2.0" fill="#c01824"/>
<circle cx="334.70" cy="348.10" r="2.0" fill="#c01824"/>
<circle cx="331.10" cy="359.30" r="2.0" fill="#c01824"/>
<line x1="348.70" y1="362.40" x2="366.30" y2="362.40" stroke="#1d3866" stroke-width="1.2"/>
<line x1="357.50" y1="352.60" x2="357.50" y2="370.80" stroke="#1d3866" stroke-width="1.2"/>
<line x1="352.30" y1="352.60" x2="362.70" y2="352.60" stroke="#1d3866" stroke-width="1.2"/>
<line x1="352.30" y1="370.80" x2="362.70" y2="370.80" stroke="#1d3866" stroke-width="1.2"/>
<rect x="349.17" y="350.67" width="4.452000000000001" height="4.452000000000001" fill="#1d3866"/>
<rect x="353.27" y="350.67" width="4.452000000000001" height="4.452000000000001" fill="#1d3866"/>
<rect x="357.27" y="350.67" width="4.452000000000001" height="4.452000000000001" fill="#1d3866"/>
<rect x="361.57" y="350.67" width="4.452000000000001" height="4.452000000000001" fill="#1d3866"/>
<rect x="353.47" y="354.57" width="4.452000000000001" height="4.452000000000001" fill="#1d3866"/>
<rect x="356.77" y="366.07" width="4.452000000000001" height="4.452000000000001" fill="#1d3866"/>
<rect x="358.97" y="366.07" width="4.452000000000001" height="4.452000000000001" fill="#1d3866"/>
<rect x="355.27" y="376.17" width="4.452000000000001" height="4.452000000000001" fill="#1d3866"/>
<text x="338.20" y="428.60" font-size="9.3" text-anchor="start" fill="#1a1a1a" stroke="#1a1a1a" stroke-width="0.08" textLength="14.00" lengthAdjust="spacingAndGlyphs">Lin-</text>
<text transform="translate(295.56 357.50) rotate(-90)" x="0" y="0" font-size="9.6" text-anchor="middle" fill="#1a1a1a" stroke="#1a1a1a" stroke-width="0.08" textLength="27.00" lengthAdjust="spacingAndGlyphs">% BM</text>
<text x="120.60" y="520.60" font-size="11.8" text-anchor="start" fill="#1a1a1a" stroke="#1a1a1a" stroke-width="0.2" textLength="57.20" lengthAdjust="spacingAndGlyphs">Progenitors</text>
<polyline points="39.50,533.00 39.50,528.50 261.50,528.50 261.50,533.00" fill="none" stroke="#222" stroke-width="1.1" stroke-linejoin="miter"/>
<line x1="39.50" y1="555.80" x2="39.50" y2="661.10" stroke="#1e1e1e" stroke-width="1.2"/>
<line x1="35.10" y1="556.50" x2="39.50" y2="556.50" stroke="#1e1e1e" stroke-width="1.2"/>
<text x="34.00" y="559.00" font-size="9.7" text-anchor="end" fill="#1a1a1a" stroke="#1a1a1a" stroke-width="0.08" textLength="5.23" lengthAdjust="spacingAndGlyphs">5</text>
<line x1="35.10" y1="577.50" x2="39.50" y2="577.50" stroke="#1e1e1e" stroke-width="1.2"/>
<text x="34.00" y="580.00" font-size="9.7" text-anchor="end" fill="#1a1a1a" stroke="#1a1a1a" stroke-width="0.08" textLength="5.23" lengthAdjust="spacingAndGlyphs">4</text>
<line x1="35.10" y1="598.50" x2="39.50" y2="598.50" stroke="#1e1e1e" stroke-width="1.2"/>
<text x="34.00" y="602.00" font-size="9.7" text-anchor="end" fill="#1a1a1a" stroke="#1a1a1a" stroke-width="0.08" textLength="5.23" lengthAdjust="spacingAndGlyphs">3</text>
<line x1="35.10" y1="619.50" x2="39.50" y2="619.50" stroke="#1e1e1e" stroke-width="1.2"/>
<text x="34.00" y="622.00" font-size="9.7" text-anchor="end" fill="#1a1a1a" stroke="#1a1a1a" stroke-width="0.08" textLength="5.23" lengthAdjust="spacingAndGlyphs">2</text>
<line x1="35.10" y1="640.50" x2="39.50" y2="640.50" stroke="#1e1e1e" stroke-width="1.2"/>
<text x="34.00" y="643.00" font-size="9.7" text-anchor="end" fill="#1a1a1a" stroke="#1a1a1a" stroke-width="0.08" textLength="5.23" lengthAdjust="spacingAndGlyphs">1</text>
<line x1="35.10" y1="660.50" x2="39.50" y2="660.50" stroke="#1e1e1e" stroke-width="1.2"/>
<text x="34.00" y="663.00" font-size="9.7" text-anchor="end" fill="#1a1a1a" stroke="#1a1a1a" stroke-width="0.08" textLength="5.23" lengthAdjust="spacingAndGlyphs">0</text>
<line x1="39.60" y1="660.50" x2="90.60" y2="660.50" stroke="#1e1e1e" stroke-width="1.2"/>
<line x1="65.50" y1="660.50" x2="65.50" y2="664.40" stroke="#1e1e1e" stroke-width="1.2"/>
<text x="43.00" y="552.90" font-size="9.3" text-anchor="start" fill="#1a1a1a" stroke="#1a1a1a" stroke-width="0.08" textLength="42.50" lengthAdjust="spacingAndGlyphs">p= 0.0053</text>
<circle cx="62.80" cy="558.80" r="1.1" fill="#1a1a1a"/>
<circle cx="66.20" cy="558.80" r="1.1" fill="#1a1a1a"/>
<polyline points="52.50,568.70 52.50,563.50 78.50,563.50 78.50,598.60" fill="none" stroke="#222" stroke-width="1.1" stroke-linejoin="miter"/>
<line x1="43.90" y1="594.40" x2="60.90" y2="594.40" stroke="#c01824" stroke-width="1.2"/>
<line x1="52.40" y1="590.60" x2="52.40" y2="599.00" stroke="#c01824" stroke-width="1.2"/>
<line x1="47.50" y1="590.60" x2="57.30" y2="590.60" stroke="#c01824" stroke-width="1.2"/>
<line x1="47.50" y1="599.00" x2="57.30" y2="599.00" stroke="#c01824" stroke-width="1.2"/>
<circle cx="52.40" cy="575.60" r="2.0" fill="#c01824"/>
<circle cx="55.50" cy="586.50" r="2.0" fill="#c01824"/>
<circle cx="49.00" cy="590.60" r="2.0" fill="#c01824"/>
<circle cx="58.20" cy="594.60" r="2.0" fill="#c01824"/>
<circle cx="46.70" cy="600.60" r="2.0" fill="#c01824"/>
<circle cx="52.40" cy="601.50" r="2.0" fill="#c01824"/>
<circle cx="52.40" cy="610.70" r="2.0" fill="#c01824"/>
<rect x="69.17" y="603.37" width="4.452000000000001" height="4.452000000000001" fill="#1d3866"/>
<rect x="82.87" y="602.77" width="4.452000000000001" height="4.452000000000001" fill="#1d3866"/>
<rect x="79.07" y="603.87" width="4.452000000000001" height="4.452000000000001" fill="#1d3866"/>
<rect x="74.97" y="605.07" width="4.452000000000001" height="4.452000000000001" fill="#1d3866"/>
<rect x="72.67" y="606.77" width="4.452000000000001" height="4.452000000000001" fill="#1d3866"/>
<rect x="72.67" y="614.27" width="4.452000000000001" height="4.452000000000001" fill="#1d3866"/>
<rect x="75.57" y="614.27" width="4.452000000000001" height="4.452000000000001" fill="#1d3866"/>
<rect x="78.67" y="617.17" width="4.452000000000001" height="4.452000000000001" fill="#1d3866"/>
<rect x="79.07" y="618.87" width="4.452000000000001" height="4.452000000000001" fill="#1d3866"/>
<line x1="69.70" y1="613.00" x2="85.60" y2="613.00" stroke="#1d3866" stroke-width="1.2"/>
<line x1="77.80" y1="609.00" x2="77.80" y2="617.00" stroke="#1d3866" stroke-width="1.2"/>
<text x="24.60" y="678.50" font-size="9.5" text-anchor="start" fill="#1a1a1a" stroke="#1a1a1a" stroke-width="0.08" textLength="85.40" lengthAdjust="spacingAndGlyphs"><tspan>Lin</tspan><tspan font-size="7.2" dy="-2.6">−</tspan><tspan dy="2.6">CD150</tspan><tspan font-size="7.2" dy="-2.6">−</tspan><tspan dy="2.6">CD48</tspan><tspan font-size="7.2" dy="-2.6">+</tspan></text>
<text transform="translate(17.16 608.80) rotate(-90)" x="0" y="0" font-size="9.6" text-anchor="middle" fill="#1a1a1a" stroke="#1a1a1a" stroke-width="0.08" textLength="27.00" lengthAdjust="spacingAndGlyphs">% BM</text>
<line x1="118.50" y1="555.80" x2="118.50" y2="661.10" stroke="#1e1e1e" stroke-width="1.2"/>
<line x1="114.30" y1="556.50" x2="118.50" y2="556.50" stroke="#1e1e1e" stroke-width="1.2"/>
<text x="113.80" y="559.00" font-size="9.7" text-anchor="end" fill="#1a1a1a" stroke="#1a1a1a" stroke-width="0.08" textLength="13.07" lengthAdjust="spacingAndGlyphs">0.5</text>
<line x1="114.30" y1="577.50" x2="118.50" y2="577.50" stroke="#1e1e1e" stroke-width="1.2"/>
<text x="113.80" y="580.00" font-size="9.7" text-anchor="end" fill="#1a1a1a" stroke="#1a1a1a" stroke-width="0.08" textLength="13.07" lengthAdjust="spacingAndGlyphs">0.4</text>
<line x1="114.30" y1="598.50" x2="118.50" y2="598.50" stroke="#1e1e1e" stroke-width="1.2"/>
<text x="113.80" y="602.00" font-size="9.7" text-anchor="end" fill="#1a1a1a" stroke="#1a1a1a" stroke-width="0.08" textLength="13.07" lengthAdjust="spacingAndGlyphs">0.3</text>
<line x1="114.30" y1="619.50" x2="118.50" y2="619.50" stroke="#1e1e1e" stroke-width="1.2"/>
<text x="113.80" y="622.00" font-size="9.7" text-anchor="end" fill="#1a1a1a" stroke="#1a1a1a" stroke-width="0.08" textLength="13.07" lengthAdjust="spacingAndGlyphs">0.2</text>
<line x1="114.30" y1="640.50" x2="118.50" y2="640.50" stroke="#1e1e1e" stroke-width="1.2"/>
<text x="113.80" y="643.00" font-size="9.7" text-anchor="end" fill="#1a1a1a" stroke="#1a1a1a" stroke-width="0.08" textLength="13.07" lengthAdjust="spacingAndGlyphs">0.1</text>
<line x1="114.30" y1="660.50" x2="118.50" y2="660.50" stroke="#1e1e1e" stroke-width="1.2"/>
<text x="113.80" y="663.00" font-size="9.7" text-anchor="end" fill="#1a1a1a" stroke="#1a1a1a" stroke-width="0.08" textLength="13.07" lengthAdjust="spacingAndGlyphs">0.0</text>
<line x1="118.80" y1="660.50" x2="170.20" y2="660.50" stroke="#1e1e1e" stroke-width="1.2"/>
<line x1="145.50" y1="660.50" x2="145.50" y2="664.40" stroke="#1e1e1e" stroke-width="1.2"/>
<text x="123.80" y="553.40" font-size="9.3" text-anchor="start" fill="#1a1a1a" stroke="#1a1a1a" stroke-width="0.08" textLength="41.70" lengthAdjust="spacingAndGlyphs">p= 0.0016</text>
<circle cx="143.80" cy="558.80" r="1.1" fill="#1a1a1a"/>
<circle cx="147.20" cy="558.80" r="1.1" fill="#1a1a1a"/>
<polyline points="132.50,576.50 132.50,569.50 159.50,569.50 159.50,599.60" fill="none" stroke="#222" stroke-width="1.1" stroke-linejoin="miter"/>
<line x1="123.00" y1="600.20" x2="140.60" y2="600.20" stroke="#c01824" stroke-width="1.2"/>
<line x1="131.80" y1="596.40" x2="131.80" y2="604.80" stroke="#c01824" stroke-width="1.2"/>
<line x1="127.60" y1="596.40" x2="136.00" y2="596.40" stroke="#c01824" stroke-width="1.2"/>
<line x1="127.60" y1="604.80" x2="136.00" y2="604.80" stroke="#c01824" stroke-width="1.2"/>
<circle cx="131.80" cy="584.60" r="2.0" fill="#c01824"/>
<circle cx="135.10" cy="591.50" r="2.0" fill="#c01824"/>
<circle cx="128.60" cy="595.90" r="2.0" fill="#c01824"/>
<circle cx="126.30" cy="603.10" r="2.0" fill="#c01824"/>
<circle cx="137.40" cy="603.10" r="2.0" fill="#c01824"/>
<circle cx="131.80" cy="608.60" r="2.0" fill="#c01824"/>
<circle cx="131.80" cy="615.70" r="2.0" fill="#c01824"/>
<rect x="155.17" y="605.17" width="4.452000000000001" height="4.452000000000001" fill="#1d3866"/>
<rect x="155.17" y="612.37" width="4.452000000000001" height="4.452000000000001" fill="#1d3866"/>
<rect x="149.37" y="618.37" width="4.452000000000001" height="4.452000000000001" fill="#1d3866"/>
<rect x="152.67" y="616.97" width="4.452000000000001" height="4.452000000000001" fill="#1d3866"/>
<rect x="157.87" y="617.77" width="4.452000000000001" height="4.452000000000001" fill="#1d3866"/>
<rect x="161.37" y="618.17" width="4.452000000000001" height="4.452000000000001" fill="#1d3866"/>
<rect x="154.97" y="622.17" width="4.452000000000001" height="4.452000000000001" fill="#1d3866"/>
<rect x="151.57" y="619.87" width="4.452000000000001" height="4.452000000000001" fill="#1d3866"/>
<rect x="158.27" y="620.77" width="4.452000000000001" height="4.452000000000001" fill="#1d3866"/>
<line x1="149.70" y1="618.30" x2="165.90" y2="618.30" stroke="#1d3866" stroke-width="1.2"/>
<line x1="210.50" y1="556.60" x2="210.50" y2="661.50" stroke="#1e1e1e" stroke-width="1.2"/>
<line x1="206.40" y1="557.50" x2="210.50" y2="557.50" stroke="#1e1e1e" stroke-width="1.2"/>
<text x="206.00" y="560.00" font-size="9.7" text-anchor="end" fill="#1a1a1a" stroke="#1a1a1a" stroke-width="0.08" textLength="10.45" lengthAdjust="spacingAndGlyphs">55</text>
<line x1="206.40" y1="574.50" x2="210.50" y2="574.50" stroke="#1e1e1e" stroke-width="1.2"/>
<text x="206.00" y="577.00" font-size="9.7" text-anchor="end" fill="#1a1a1a" stroke="#1a1a1a" stroke-width="0.08" textLength="10.45" lengthAdjust="spacingAndGlyphs">50</text>
<line x1="206.40" y1="591.50" x2="210.50" y2="591.50" stroke="#1e1e1e" stroke-width="1.2"/>
<text x="206.00" y="594.00" font-size="9.7" text-anchor="end" fill="#1a1a1a" stroke="#1a1a1a" stroke-width="0.08" textLength="10.45" lengthAdjust="spacingAndGlyphs">45</text>
<line x1="206.40" y1="608.50" x2="210.50" y2="608.50" stroke="#1e1e1e" stroke-width="1.2"/>
<text x="206.00" y="611.00" font-size="9.7" text-anchor="end" fill="#1a1a1a" stroke="#1a1a1a" stroke-width="0.08" textLength="10.45" lengthAdjust="spacingAndGlyphs">40</text>
<line x1="206.40" y1="625.50" x2="210.50" y2="625.50" stroke="#1e1e1e" stroke-width="1.2"/>
<text x="206.00" y="629.00" font-size="9.7" text-anchor="end" fill="#1a1a1a" stroke="#1a1a1a" stroke-width="0.08" textLength="10.45" lengthAdjust="spacingAndGlyphs">35</text>
<line x1="206.40" y1="643.50" x2="210.50" y2="643.50" stroke="#1e1e1e" stroke-width="1.2"/>
<text x="206.00" y="646.00" font-size="9.7" text-anchor="end" fill="#1a1a1a" stroke="#1a1a1a" stroke-width="0.08" textLength="10.45" lengthAdjust="spacingAndGlyphs">30</text>
<line x1="206.40" y1="661.50" x2="210.50" y2="661.50" stroke="#1e1e1e" stroke-width="1.2"/>
<text x="206.00" y="664.00" font-size="9.7" text-anchor="end" fill="#1a1a1a" stroke="#1a1a1a" stroke-width="0.08" textLength="10.45" lengthAdjust="spacingAndGlyphs">25</text>
<line x1="210.90" y1="661.50" x2="262.00" y2="661.50" stroke="#1e1e1e" stroke-width="1.2"/>
<line x1="237.50" y1="661.50" x2="237.50" y2="664.80" stroke="#1e1e1e" stroke-width="1.2"/>
<text x="218.70" y="553.60" font-size="9.3" text-anchor="start" fill="#1a1a1a" stroke="#1a1a1a" stroke-width="0.08" textLength="41.00" lengthAdjust="spacingAndGlyphs">p= 0.0076</text>
<circle cx="235.30" cy="558.70" r="1.1" fill="#1a1a1a"/>
<circle cx="238.70" cy="558.70" r="1.1" fill="#1a1a1a"/>
<polyline points="224.50,611.60 224.50,568.50 250.50,568.50 250.50,574.80" fill="none" stroke="#222" stroke-width="1.1" stroke-linejoin="miter"/>
<line x1="216.10" y1="628.20" x2="233.30" y2="628.20" stroke="#c01824" stroke-width="1.2"/>
<line x1="224.70" y1="624.70" x2="224.70" y2="631.60" stroke="#c01824" stroke-width="1.2"/>
<line x1="220.10" y1="624.70" x2="229.30" y2="624.70" stroke="#c01824" stroke-width="1.2"/>
<line x1="220.10" y1="631.60" x2="229.30" y2="631.60" stroke="#c01824" stroke-width="1.2"/>
<circle cx="219.40" cy="617.40" r="2.0" fill="#c01824"/>
<circle cx="225.20" cy="619.70" r="2.0" fill="#c01824"/>
<circle cx="230.90" cy="619.70" r="2.0" fill="#c01824"/>
<circle cx="231.00" cy="629.30" r="2.0" fill="#c01824"/>
<circle cx="219.40" cy="633.40" r="2.0" fill="#c01824"/>
<circle cx="226.00" cy="634.60" r="2.0" fill="#c01824"/>
<circle cx="225.00" cy="642.20" r="2.0" fill="#c01824"/>
<line x1="242.10" y1="604.70" x2="258.90" y2="604.70" stroke="#1d3866" stroke-width="1.2"/>
<line x1="250.50" y1="598.30" x2="250.50" y2="611.00" stroke="#1d3866" stroke-width="1.2"/>
<line x1="245.70" y1="598.30" x2="255.30" y2="598.30" stroke="#1d3866" stroke-width="1.2"/>
<line x1="245.70" y1="611.00" x2="255.30" y2="611.00" stroke="#1d3866" stroke-width="1.2"/>
<rect x="245.37" y="580.07" width="4.664000000000001" height="4.664000000000001" fill="#1d3866"/>
<rect x="251.57" y="580.07" width="4.664000000000001" height="4.664000000000001" fill="#1d3866"/>
<rect x="248.17" y="588.67" width="4.664000000000001" height="4.664000000000001" fill="#1d3866"/>
<rect x="248.17" y="601.27" width="4.664000000000001" height="4.664000000000001" fill="#1d3866"/>
<rect x="244.67" y="608.17" width="4.664000000000001" height="4.664000000000001" fill="#1d3866"/>
<rect x="251.57" y="613.17" width="4.664000000000001" height="4.664000000000001" fill="#1d3866"/>
<rect x="248.17" y="630.47" width="4.664000000000001" height="4.664000000000001" fill="#1d3866"/>
<text transform="translate(188.36 608.00) rotate(-90)" x="0" y="0" font-size="9.6" text-anchor="middle" fill="#1a1a1a" stroke="#1a1a1a" stroke-width="0.08" textLength="24.00" lengthAdjust="spacingAndGlyphs">% Lin</text>
<text x="116.90" y="678.30" font-size="9.3" text-anchor="start" fill="#1a1a1a" stroke="#1a1a1a" stroke-width="0.08" textLength="69.20" lengthAdjust="spacingAndGlyphs"><tspan>Lin</tspan><tspan font-size="7.0" dy="-2.6">−</tspan><tspan dy="2.6">Sca-1</tspan><tspan font-size="7.0" dy="-2.6">+</tspan><tspan dy="2.6">c-Kit</tspan><tspan font-size="7.0" dy="-2.6">−</tspan></text>
<text x="213.40" y="678.30" font-size="9.3" text-anchor="start" fill="#1a1a1a" stroke="#1a1a1a" stroke-width="0.08" textLength="53.30" lengthAdjust="spacingAndGlyphs"><tspan>Sca-1</tspan><tspan font-size="7.0" dy="-2.6">−</tspan><tspan dy="2.6">c-Kit</tspan><tspan font-size="7.0" dy="-2.6">+</tspan></text>
<text x="372.20" y="472.30" font-size="11.8" text-anchor="start" fill="#1a1a1a" stroke="#1a1a1a" stroke-width="0.2" textLength="31.00" lengthAdjust="spacingAndGlyphs">HSCs</text>
<polyline points="320.50,485.00 320.50,480.50 456.50,480.50 456.50,485.00" fill="none" stroke="#222" stroke-width="1.1" stroke-linejoin="miter"/>
<line x1="324.50" y1="507.80" x2="324.50" y2="613.00" stroke="#1e1e1e" stroke-width="1.2"/>
<line x1="320.00" y1="508.50" x2="324.50" y2="508.50" stroke="#1e1e1e" stroke-width="1.2"/>
<text x="318.80" y="511.00" font-size="9.7" text-anchor="end" fill="#1a1a1a" stroke="#1a1a1a" stroke-width="0.08" textLength="18.29" lengthAdjust="spacingAndGlyphs">0.20</text>
<line x1="320.00" y1="533.50" x2="324.50" y2="533.50" stroke="#1e1e1e" stroke-width="1.2"/>
<text x="318.80" y="536.00" font-size="9.7" text-anchor="end" fill="#1a1a1a" stroke="#1a1a1a" stroke-width="0.08" textLength="18.29" lengthAdjust="spacingAndGlyphs">0.15</text>
<line x1="320.00" y1="558.50" x2="324.50" y2="558.50" stroke="#1e1e1e" stroke-width="1.2"/>
<text x="318.80" y="562.00" font-size="9.7" text-anchor="end" fill="#1a1a1a" stroke="#1a1a1a" stroke-width="0.08" textLength="18.29" lengthAdjust="spacingAndGlyphs">0.10</text>
<line x1="320.00" y1="585.50" x2="324.50" y2="585.50" stroke="#1e1e1e" stroke-width="1.2"/>
<text x="318.80" y="588.00" font-size="9.7" text-anchor="end" fill="#1a1a1a" stroke="#1a1a1a" stroke-width="0.08" textLength="18.29" lengthAdjust="spacingAndGlyphs">0.05</text>
<line x1="320.00" y1="612.50" x2="324.50" y2="612.50" stroke="#1e1e1e" stroke-width="1.2"/>
<text x="318.80" y="615.00" font-size="9.7" text-anchor="end" fill="#1a1a1a" stroke="#1a1a1a" stroke-width="0.08" textLength="18.29" lengthAdjust="spacingAndGlyphs">0.00</text>
<line x1="322.50" y1="612.50" x2="377.00" y2="612.50" stroke="#1e1e1e" stroke-width="1.2"/>
<line x1="350.50" y1="612.50" x2="350.50" y2="616.30" stroke="#1e1e1e" stroke-width="1.2"/>
<text x="345.50" y="509.30" font-size="9.0" text-anchor="start" fill="#1a1a1a" stroke="#1a1a1a" stroke-width="0.08" textLength="10.80" lengthAdjust="spacingAndGlyphs">n.s</text>
<polyline points="337.50,519.50 337.50,513.50 364.50,513.50 364.50,555.00" fill="none" stroke="#222" stroke-width="1.1" stroke-linejoin="miter"/>
<line x1="328.70" y1="568.30" x2="346.30" y2="568.30" stroke="#c01824" stroke-width="1.2"/>
<line x1="337.50" y1="550.00" x2="337.50" y2="587.00" stroke="#c01824" stroke-width="1.2"/>
<line x1="332.10" y1="550.00" x2="342.90" y2="550.00" stroke="#c01824" stroke-width="1.2"/>
<line x1="332.10" y1="587.00" x2="342.90" y2="587.00" stroke="#c01824" stroke-width="1.2"/>
<circle cx="337.50" cy="527.00" r="2.0" fill="#c01824"/>
<circle cx="334.50" cy="565.00" r="2.0" fill="#c01824"/>
<circle cx="341.30" cy="568.80" r="2.0" fill="#c01824"/>
<circle cx="344.50" cy="575.00" r="2.0" fill="#c01824"/>
<circle cx="331.30" cy="578.80" r="2.0" fill="#c01824"/>
<circle cx="339.50" cy="579.50" r="2.0" fill="#c01824"/>
<circle cx="335.50" cy="581.30" r="2.0" fill="#c01824"/>
<line x1="358.80" y1="587.00" x2="368.80" y2="587.00" stroke="#1d3866" stroke-width="1.2"/>
<line x1="363.80" y1="569.80" x2="363.80" y2="593.80" stroke="#1d3866" stroke-width="1.2"/>
<line x1="358.80" y1="569.80" x2="368.80" y2="569.80" stroke="#1d3866" stroke-width="1.2"/>
<line x1="358.80" y1="593.80" x2="368.80" y2="593.80" stroke="#1d3866" stroke-width="1.2"/>
<rect x="358.27" y="562.27" width="4.452000000000001" height="4.452000000000001" fill="#1d3866"/>
<rect x="364.77" y="567.77" width="4.452000000000001" height="4.452000000000001" fill="#1d3866"/>
<rect x="361.57" y="575.27" width="4.452000000000001" height="4.452000000000001" fill="#1d3866"/>
<rect x="355.77" y="584.77" width="4.452000000000001" height="4.452000000000001" fill="#1d3866"/>
<rect x="367.27" y="584.77" width="4.452000000000001" height="4.452000000000001" fill="#1d3866"/>
<rect x="361.57" y="587.77" width="4.452000000000001" height="4.452000000000001" fill="#1d3866"/>
<rect x="361.57" y="595.77" width="4.452000000000001" height="4.452000000000001" fill="#1d3866"/>
<text x="343.00" y="630.40" font-size="9.3" text-anchor="start" fill="#1a1a1a" stroke="#1a1a1a" stroke-width="0.08" textLength="18.20" lengthAdjust="spacingAndGlyphs">LSK</text>
<text transform="translate(295.56 560.00) rotate(-90)" x="0" y="0" font-size="9.6" text-anchor="middle" fill="#1a1a1a" stroke="#1a1a1a" stroke-width="0.08" textLength="27.00" lengthAdjust="spacingAndGlyphs">% BM</text>
<line x1="413.50" y1="507.20" x2="413.50" y2="612.50" stroke="#1e1e1e" stroke-width="1.2"/>
<line x1="409.20" y1="507.50" x2="413.50" y2="507.50" stroke="#1e1e1e" stroke-width="1.2"/>
<text x="407.60" y="510.00" font-size="9.7" text-anchor="end" fill="#1a1a1a" stroke="#1a1a1a" stroke-width="0.08" textLength="25.27" lengthAdjust="spacingAndGlyphs">0.005</text>
<line x1="409.20" y1="529.50" x2="413.50" y2="529.50" stroke="#1e1e1e" stroke-width="1.2"/>
<text x="407.60" y="532.00" font-size="9.7" text-anchor="end" fill="#1a1a1a" stroke="#1a1a1a" stroke-width="0.08" textLength="25.27" lengthAdjust="spacingAndGlyphs">0.004</text>
<line x1="409.20" y1="550.50" x2="413.50" y2="550.50" stroke="#1e1e1e" stroke-width="1.2"/>
<text x="407.60" y="553.00" font-size="9.7" text-anchor="end" fill="#1a1a1a" stroke="#1a1a1a" stroke-width="0.08" textLength="25.27" lengthAdjust="spacingAndGlyphs">0.003</text>
<line x1="409.20" y1="571.50" x2="413.50" y2="571.50" stroke="#1e1e1e" stroke-width="1.2"/>
<text x="407.60" y="574.00" font-size="9.7" text-anchor="end" fill="#1a1a1a" stroke="#1a1a1a" stroke-width="0.08" textLength="25.27" lengthAdjust="spacingAndGlyphs">0.002</text>
<line x1="409.20" y1="591.50" x2="413.50" y2="591.50" stroke="#1e1e1e" stroke-width="1.2"/>
<text x="407.60" y="594.00" font-size="9.7" text-anchor="end" fill="#1a1a1a" stroke="#1a1a1a" stroke-width="0.08" textLength="25.27" lengthAdjust="spacingAndGlyphs">0.001</text>
<line x1="409.20" y1="612.50" x2="413.50" y2="612.50" stroke="#1e1e1e" stroke-width="1.2"/>
<text x="407.60" y="615.00" font-size="9.7" text-anchor="end" fill="#1a1a1a" stroke="#1a1a1a" stroke-width="0.08" textLength="25.27" lengthAdjust="spacingAndGlyphs">0.000</text>
<line x1="409.50" y1="612.50" x2="466.20" y2="612.50" stroke="#1e1e1e" stroke-width="1.2"/>
<line x1="439.50" y1="612.50" x2="439.50" y2="615.80" stroke="#1e1e1e" stroke-width="1.2"/>
<text x="435.20" y="509.30" font-size="9.0" text-anchor="start" fill="#1a1a1a" stroke="#1a1a1a" stroke-width="0.08" textLength="10.80" lengthAdjust="spacingAndGlyphs">n.s</text>
<polyline points="427.50,524.40 427.50,511.50 453.50,511.50 453.50,521.70" fill="none" stroke="#222" stroke-width="1.1" stroke-linejoin="miter"/>
<line x1="418.20" y1="574.20" x2="436.00" y2="574.20" stroke="#c01824" stroke-width="1.2"/>
<line x1="427.10" y1="550.50" x2="427.10" y2="598.00" stroke="#c01824" stroke-width="1.2"/>
<line x1="422.50" y1="550.50" x2="431.70" y2="550.50" stroke="#c01824" stroke-width="1.2"/>
<line x1="422.50" y1="598.00" x2="431.70" y2="598.00" stroke="#c01824" stroke-width="1.2"/>
<circle cx="427.10" cy="534.70" r="2.0" fill="#c01824"/>
<circle cx="427.10" cy="554.90" r="2.0" fill="#c01824"/>
<circle cx="427.10" cy="563.50" r="2.0" fill="#c01824"/>
<circle cx="427.10" cy="587.20" r="2.0" fill="#c01824"/>
<circle cx="421.70" cy="590.40" r="2.0" fill="#c01824"/>
<circle cx="427.10" cy="595.80" r="2.0" fill="#c01824"/>
<circle cx="432.50" cy="594.40" r="2.0" fill="#c01824"/>
<line x1="444.00" y1="577.50" x2="462.40" y2="577.50" stroke="#1d3866" stroke-width="1.2"/>
<line x1="453.20" y1="554.60" x2="453.20" y2="601.20" stroke="#1d3866" stroke-width="1.2"/>
<line x1="448.60" y1="554.60" x2="457.80" y2="554.60" stroke="#1d3866" stroke-width="1.2"/>
<line x1="448.60" y1="601.20" x2="457.80" y2="601.20" stroke="#1d3866" stroke-width="1.2"/>
<rect x="450.97" y="528.37" width="4.452000000000001" height="4.452000000000001" fill="#1d3866"/>
<rect x="450.97" y="565.27" width="4.452000000000001" height="4.452000000000001" fill="#1d3866"/>
<rect x="450.97" y="574.77" width="4.452000000000001" height="4.452000000000001" fill="#1d3866"/>
<rect x="445.07" y="587.67" width="4.452000000000001" height="4.452000000000001" fill="#1d3866"/>
<rect x="450.97" y="587.67" width="4.452000000000001" height="4.452000000000001" fill="#1d3866"/>
<rect x="456.67" y="587.67" width="4.452000000000001" height="4.452000000000001" fill="#1d3866"/>
<rect x="450.97" y="595.47" width="4.452000000000001" height="4.452000000000001" fill="#1d3866"/>
<text x="397.50" y="629.80" font-size="9.5" text-anchor="start" fill="#1a1a1a" stroke="#1a1a1a" stroke-width="0.08" textLength="86.20" lengthAdjust="spacingAndGlyphs"><tspan>LSKCD150</tspan><tspan font-size="7.2" dy="-2.6">+</tspan><tspan dy="2.6">CD48</tspan><tspan font-size="7.2" dy="-2.6">−</tspan></text>
<circle cx="467.60" cy="551.40" r="2.1" fill="#c01824"/>
<rect x="465.27" y="562.47" width="4.664000000000001" height="4.664000000000001" fill="#1d3866"/>
<text x="475.60" y="554.70" font-size="9.0" text-anchor="start" fill="#1a1a1a" stroke="#1a1a1a" stroke-width="0.08" textLength="31.40" lengthAdjust="spacingAndGlyphs">Arhgef2</text>
<text x="507.20" y="551.80" font-size="6.0" text-anchor="start" fill="#1a1a1a" stroke="#1a1a1a" stroke-width="0.08" textLength="8.60" lengthAdjust="spacingAndGlyphs">fl/fl</text>
<text x="475.60" y="568.10" font-size="9.0" text-anchor="start" fill="#1a1a1a" stroke="#1a1a1a" stroke-width="0.08" textLength="31.40" lengthAdjust="spacingAndGlyphs">Arhgef2</text>
<text x="507.20" y="565.20" font-size="6.0" text-anchor="start" fill="#1a1a1a" stroke="#1a1a1a" stroke-width="0.08" textLength="5.80" lengthAdjust="spacingAndGlyphs">-/-</text>
</svg></body></html>
